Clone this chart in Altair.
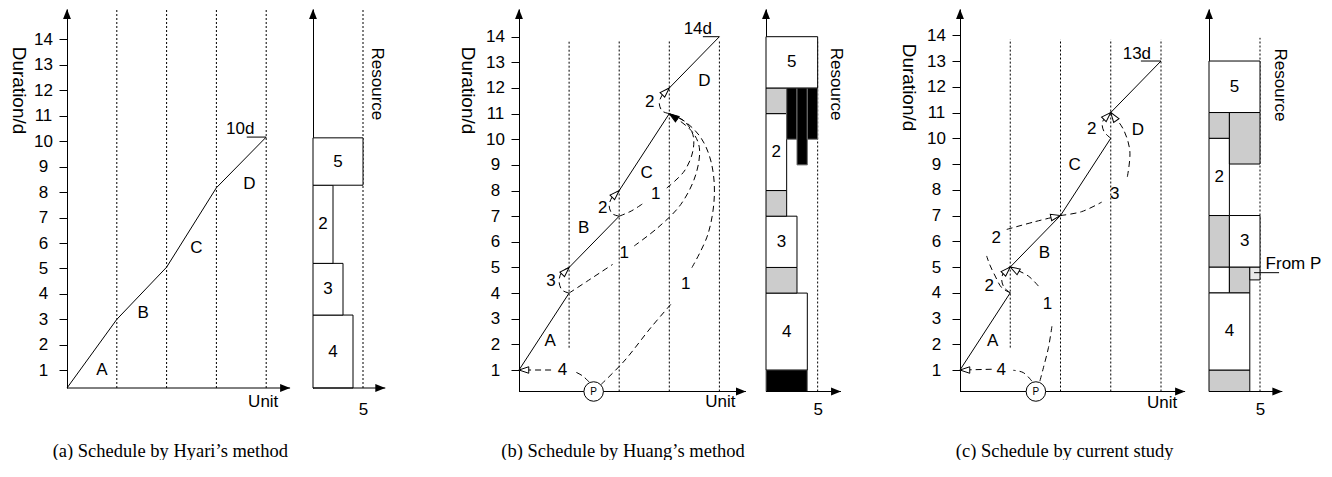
import altair as alt
import pandas as pd

SANS = "Liberation Sans"
SERIF = "Liberation Serif"
FS = 17
DASH = [6, 4]
DOT = [2, 2]
AXIS_HEAD = "M0,0L0.75,1.9L-0.75,1.9Z"
CURVE_HEAD = "M0,0L0.65,1.95L-0.65,1.95Z"

# ======================= values =======================
Y_TICKS = list(range(1, 15))
UNIT_TICKS = [1, 2, 3, 4]
RES_TICK = [5]
ACTIVITIES = ["A", "B", "C", "D"]

KINDS = ["white", "gray", "black", "light"]
FILLS = ["#ffffff", "#cccccc", "#000000", "#e8e8e8"]
STROKES = ["#000000", "#000000", "#707070", "#000000"]

# ---- (a) Hyari's method
A_SEG_X = [[0, 1, 2, 3, 4]]
A_SEG_Y = [[0.305, 3.0, 5.05, 8.17, 10.16]]
A_ACT_X = [0.70, 1.53, 2.60, 3.66]
A_ACT_Y = [1.00, 3.26, 5.80, 8.32]
A_TOTAL = ["10d"]
A_TOTAL_X = [3.48]
A_TOTAL_Y = [10.29]
A_TOTAL_LINE = [3.61, 4.0, 10.16]
A_DOT_LO = [0.305, 0.305, 0.305, 0.305]
A_DOT_HI = [15.19, 15.19, 15.19, 15.19]
A_RES_LABEL = ["4", "3", "2", "5"]
A_RES_X1 = [0, 0, 0, 0]
A_RES_X2 = [4, 3, 2, 5]
A_RES_Y1 = [0.305, 3.17, 5.20, 8.27]
A_RES_Y2 = [3.17, 5.20, 8.27, 10.13]
A_RES_KIND = ["white", "white", "white", "white"]

# ---- (b) Huang's method
B_SEG_X = [[0, 1], [1, 2], [2, 3], [3, 4]]
B_SEG_Y = [[1, 4], [5, 7], [8, 11], [12, 14]]
B_ACT_X = [0.62, 1.29, 2.55, 3.70]
B_ACT_Y = [2.13, 6.55, 8.70, 12.27]
B_TOTAL = ["14d"]
B_TOTAL_X = [3.57]
B_TOTAL_Y = [14.12]
B_TOTAL_LINE = [3.67, 4.0, 14.0]
B_DOT_LO = [1.87, 0.162, 0.162, 0.162]
B_DOT_HI = [13.86, 13.86, 13.86, 13.86]
B_NUM = ["4", "1", "1", "1", "3", "2", "2"]
B_NUM_X = [0.87, 3.33, 2.10, 2.73, 0.64, 1.67, 2.61]
B_NUM_Y = [0.99, 4.34, 5.55, 7.85, 4.47, 7.33, 11.45]
B_CURVES = {
    "p_start_1": ([1.40, 1.27, 1.12], [0.53, 0.77, 0.93]),
    "p_start_2": ([0.64, 0.02], [1.0, 1.0]),
    "p_c_1": ([1.64, 2.10, 2.63, 3.03], [0.44, 1.35, 2.65, 3.56]),
    "p_c_2": ([3.45, 3.77, 3.90, 3.83, 3.63, 3.30, 3.02], [4.99, 6.29, 7.85, 9.15, 10.06, 10.71, 10.98]),
    "b_c_1": ([1.0, 1.35, 1.87], [4.0, 4.45, 5.12]),
    "b_c_2": ([2.30, 2.77, 3.23, 3.53, 3.60, 3.47, 3.17, 3.02], [5.84, 6.55, 7.46, 8.63, 9.67, 10.26, 10.78, 10.98]),
    "c_c_1": ([2.0, 2.24, 2.48], [7.0, 7.2, 7.5]),
    "c_c_2": ([2.95, 3.30, 3.47, 3.47, 3.30, 3.02], [8.10, 8.76, 9.54, 10.19, 10.70, 10.98]),
    "loop_b": ([1.0, 0.86, 0.80, 0.85, 0.97], [4.0, 4.12, 4.45, 4.80, 4.98]),
    "loop_c": ([2.0, 1.86, 1.80, 1.86, 1.97], [7.0, 7.10, 7.40, 7.75, 7.97]),
    "loop_d": ([3.0, 2.86, 2.80, 2.85, 2.97], [11.0, 11.10, 11.40, 11.70, 11.97]),
}
B_OPEN_X = [0, 1, 2, 3]
B_OPEN_Y = [1, 5, 8, 12]
B_OPEN_ANG = [270, 45, 45, 45]
B_FILL_X = [3]
B_FILL_Y = [11]
B_FILL_ANG = [305]
B_P_X = [1.49]
B_RES_LABEL = ["", "4", "", "3", "", "2", "", "", "", "", "5"]
B_RES_X1 = [0, 0, 0, 0, 0, 0, 0, 2, 3, 4, 0]
B_RES_X2 = [4, 4, 3, 3, 2, 2, 2, 3, 4, 5, 5]
B_RES_Y1 = [0.162, 1, 4, 5, 7, 8, 11, 10, 9, 10, 12]
B_RES_Y2 = [1, 4, 5, 7, 8, 11, 12, 12, 12, 12, 14]
B_RES_KIND = ["black", "white", "gray", "white", "gray", "white", "gray",
              "black", "black", "black", "white"]

# ---- (c) current study
C_SEG_X = [[0, 1], [1, 2, 3], [3, 4]]
C_SEG_Y = [[1, 4], [5, 7, 10], [11, 13]]
C_ACT_X = [0.65, 1.68, 2.28, 3.54]
C_ACT_Y = [2.13, 5.56, 8.95, 10.31]
C_TOTAL = ["13d"]
C_TOTAL_X = [3.52]
C_TOTAL_Y = [13.07]
C_TOTAL_LINE = [3.6, 4.0, 13.0]
C_DOT_LO = [1.87, 0.166, 0.166, 0.166]
C_DOT_HI = [13.84, 13.84, 13.84, 13.84]
C_NUM = ["4", "1", "2", "2", "3", "2"]
C_NUM_X = [0.82, 1.74, 0.58, 0.72, 3.08, 2.62]
C_NUM_Y = [0.99, 3.55, 4.26, 6.14, 7.82, 10.35]
C_CURVES = {
    "p_start_1": ([1.43, 1.26, 1.06], [0.57, 0.90, 0.99]),
    "p_start_2": ([0.63, 0.02], [1.03, 1.0]),
    "p_b_1": ([1.59, 1.66, 1.76, 1.83], [0.57, 1.09, 1.87, 2.71]),
    "p_b_2": ([1.56, 1.36, 1.03], [4.26, 4.65, 4.97]),
    "loop_b": ([1.0, 0.88, 0.83, 0.87, 0.97], [4.0, 4.2, 4.5, 4.8, 4.98]),
    "a_c_1": ([1.0, 0.83, 0.70, 0.59, 0.53], [4.0, 4.2, 4.65, 5.1, 5.43]),
    "a_c_2": ([0.93, 1.49, 1.97], [6.46, 6.76, 6.99]),
    "c_d_1": ([2.0, 2.42, 2.82], [7.0, 7.15, 7.52]),
    "c_d_2": ([3.33, 3.38, 3.25, 3.03], [8.5, 9.5, 10.35, 10.95]),
    "loop_d": ([3.0, 2.87, 2.83, 2.88, 2.97], [10.0, 10.25, 10.55, 10.8, 10.97]),
}
C_OPEN_X = [0, 1, 1, 2, 3, 3]
C_OPEN_Y = [1, 5, 5, 7, 11, 11]
C_OPEN_ANG = [270, 300, 45, 78, 325, 45]
C_P_X = [1.51]
C_RES_LABEL = ["", "4", "", "", "", "", "3", "2", "", "", "5"]
C_RES_X1 = [0, 0, 0, 2, 4, 0, 2, 0, 0, 2, 0]
C_RES_X2 = [4, 4, 2, 4, 5, 2, 5, 2, 2, 5, 5]
C_RES_Y1 = [0.166, 1, 4, 4, 4.5, 5, 5, 7, 10, 9, 11]
C_RES_Y2 = [1, 4, 5, 5, 5, 7, 7, 10, 11, 11, 13]
C_RES_KIND = ["gray", "white", "white", "gray", "light", "gray", "white",
              "white", "gray", "gray", "white"]
C_NOTE = ["From P"]
C_NOTE_X = [5.55]
C_NOTE_Y = [4.93]
C_NOTE_LINE = [4.42, 6.87, 4.78]

CAPTIONS = ["(a) Schedule by Hyari’s method",
            "(b) Schedule by Huang’s method",
            "(c) Schedule by current study"]

# ======================= layout of the six panels =======================
GEO = {
    "a_main": dict(w=246.0, h=379.0, unit=49.8, y0=0.305, y1=15.191),
    "a_res": dict(w=205.3, h=379.0, unit=10.0, y0=0.305, y1=15.191),
    "b_main": dict(w=247.0, h=382.5, unit=50.1, y0=0.162, y1=15.08),
    "b_res": dict(w=193.3, h=382.5, unit=10.33, y0=0.162, y1=15.08),
    "c_main": dict(w=248.4, h=382.5, unit=50.25, y0=0.166, y1=15.02),
    "c_res": dict(w=100.0, h=382.5, unit=10.2, y0=0.166, y1=15.02),
}


def scales(g):
    return (alt.Scale(domain=[0, g["w"] / g["unit"]], nice=False, zero=False),
            alt.Scale(domain=[g["y0"], g["y1"]], nice=False, zero=False))


def poly_frame(xs_list, ys_list):
    rows = []
    for s, (xs, ys) in enumerate(zip(xs_list, ys_list)):
        for i, (x, y) in enumerate(zip(xs, ys)):
            rows.append({"s": s, "i": i, "x": x, "y": y})
    return pd.DataFrame(rows)


def text_layer(X, Y, texts, xs, ys, **kw):
    df = pd.DataFrame({"x": xs, "y": ys, "t": texts})
    props = dict(font=SANS, fontSize=FS, color="black", align="center", baseline="middle")
    props.update(kw)
    return alt.Chart(df).mark_text(**props).encode(x=X, y=Y, text="t:N")


def axis_arrows(X, Y, g, tip):
    line = alt.Chart(pd.DataFrame({"x": [0], "x2": [tip], "y": [g["y0"]]})).mark_rule(
        color="black", strokeWidth=1).encode(x=X, x2="x2:Q", y=Y)
    heads = alt.Chart(pd.DataFrame({"x": [0, tip], "y": [g["y1"], g["y0"]], "ang": [0, 90]})).mark_point(
        shape=AXIS_HEAD, size=110, filled=True, color="black", opacity=1, strokeWidth=0
    ).encode(x=X, y=Y, angle=alt.Angle("ang:Q", scale=None))
    return [line, heads]


def main_panel(g, caption, cap_x, cap_y, title_x, title_y, seg_x, seg_y, dot_lo, dot_hi, tip,
               total, total_x, total_y, total_line, act_x, act_y, unit_x, unit_y,
               num=None, num_x=None, num_y=None, curves=None,
               open_x=None, open_y=None, open_ang=None,
               fill_x=None, fill_y=None, fill_ang=None, p_x=None):
    xs, ys = scales(g)
    xax = alt.Axis(domain=False, ticks=False, labels=False, grid=False,
                   title=caption, titleFont=SERIF, titleFontSize=18.5,
                   titleFontWeight="normal", titleColor="black",
                   titleX=cap_x, titleY=cap_y, titleAlign="center", titleBaseline="middle")
    yax = alt.Axis(values=Y_TICKS, grid=False, domainColor="black", domainWidth=1,
                   tickColor="black", tickWidth=1, tickSize=8,
                   labelPadding=16, labelAlign="center", labelBaseline="middle",
                   labelFont=SANS, labelFontSize=FS, labelColor="black",
                   labelOverlap=False, labelFlush=False,
                   title="Duration/d", titleAngle=90, titleX=title_x, titleY=title_y,
                   titleAlign="center", titleBaseline="alphabetic",
                   titleFont=SANS, titleFontSize=19, titleFontWeight="normal", titleColor="black")
    X = alt.X("x:Q", scale=xs, axis=xax)
    Y = alt.Y("y:Q", scale=ys, axis=yax)

    layers = []
    layers.append(alt.Chart(pd.DataFrame({"x": UNIT_TICKS, "y": dot_lo, "y2": dot_hi})).mark_rule(
        color="black", strokeWidth=1, strokeDash=DOT).encode(x=X, y=Y, y2="y2:Q"))
    layers += axis_arrows(X, Y, g, tip)
    layers.append(alt.Chart(poly_frame(seg_x, seg_y)).mark_line(color="black", strokeWidth=1).encode(
        x=X, y=Y, detail="s:N", order="i:Q"))
    layers.append(alt.Chart(pd.DataFrame({"x": [total_line[0]], "x2": [total_line[1]], "y": [total_line[2]]}))
                  .mark_rule(color="black", strokeWidth=1).encode(x=X, x2="x2:Q", y=Y))
    layers.append(text_layer(X, Y, total, total_x, total_y, baseline="alphabetic"))
    if curves:
        names = list(curves)
        layers.append(alt.Chart(poly_frame([curves[n][0] for n in names], [curves[n][1] for n in names]))
                      .mark_line(color="black", strokeWidth=1, strokeDash=DASH, interpolate="catmull-rom")
                      .encode(x=X, y=Y, detail="s:N", order="i:Q"))
    if p_x:
        pdf = pd.DataFrame({"x": p_x, "y": [g["y0"]] * len(p_x), "t": ["P"] * len(p_x)})
        layers.append(alt.Chart(pdf).mark_point(shape="circle", size=380, filled=True, fill="white",
                                                 stroke="black", strokeWidth=1, opacity=1).encode(x=X, y=Y))
        layers.append(alt.Chart(pdf).mark_text(font=SANS, fontSize=10, color="black", baseline="middle",
                                               align="center").encode(x=X, y=Y, text="t:N"))
    if open_x:
        layers.append(alt.Chart(pd.DataFrame({"x": open_x, "y": open_y, "ang": open_ang})).mark_point(
            shape=CURVE_HEAD, size=100, filled=True, fill="white", stroke="black", strokeWidth=1, opacity=1
        ).encode(x=X, y=Y, angle=alt.Angle("ang:Q", scale=None)))
    if fill_x:
        layers.append(alt.Chart(pd.DataFrame({"x": fill_x, "y": fill_y, "ang": fill_ang})).mark_point(
            shape=CURVE_HEAD, size=100, filled=True, fill="black", stroke="black", strokeWidth=1, opacity=1
        ).encode(x=X, y=Y, angle=alt.Angle("ang:Q", scale=None)))
    layers.append(text_layer(X, Y, ACTIVITIES, act_x, act_y))
    if num:
        layers.append(text_layer(X, Y, num, num_x, num_y))
    layers.append(text_layer(X, Y, ["Unit"], [unit_x], [unit_y]))
    return alt.layer(*layers).properties(width=g["w"], height=g["h"])


def res_panel(g, lab_pad, dot_hi, tip, rx, ry, labels, x1, x2, y1, y2, kind,
              note=None, note_x=None, note_y=None, note_line=None):
    xs, ys = scales(g)
    xax = alt.Axis(values=RES_TICK, domain=False, ticks=False, tickSize=0, grid=False,
                   labelPadding=lab_pad, labelFont=SANS, labelFontSize=FS, labelColor="black",
                   labelFlush=False, title=None)
    yax = alt.Axis(labels=False, ticks=False, grid=False, domainColor="black", domainWidth=1, title=None)
    X = alt.X("x:Q", scale=xs, axis=xax)
    Y = alt.Y("y:Q", scale=ys, axis=yax)
    bars = pd.DataFrame({"x": x1, "x2": x2, "y": y1, "y2": y2, "kind": kind, "label": labels})

    layers = []
    layers.append(alt.Chart(pd.DataFrame({"x": RES_TICK, "y": [g["y0"]], "y2": [dot_hi]})).mark_rule(
        color="black", strokeWidth=1, strokeDash=DOT).encode(x=X, y=Y, y2="y2:Q"))
    layers.append(alt.Chart(bars).mark_rect(strokeWidth=1).encode(
        x=X, x2="x2:Q", y=Y, y2="y2:Q",
        fill=alt.Fill("kind:N", scale=alt.Scale(domain=KINDS, range=FILLS), legend=None),
        stroke=alt.Stroke("kind:N", scale=alt.Scale(domain=KINDS, range=STROKES), legend=None)))
    layers += axis_arrows(X, Y, g, tip)
    layers.append(alt.Chart(bars).transform_filter("datum.label != ''").transform_calculate(
        xc="(datum.x + datum.x2) / 2", yc="(datum.y + datum.y2) / 2"
    ).mark_text(font=SANS, fontSize=FS, color="black", align="center", baseline="middle").encode(
        x=alt.X("xc:Q", scale=xs, axis=xax), y=alt.Y("yc:Q", scale=ys, axis=yax), text="label:N"))
    layers.append(text_layer(X, Y, ["Resource"], [rx], [ry], angle=90))
    if note:
        layers.append(alt.Chart(pd.DataFrame({"x": [note_line[0]], "x2": [note_line[1]], "y": [note_line[2]]}))
                      .mark_rule(color="black", strokeWidth=1).encode(x=X, x2="x2:Q", y=Y))
        layers.append(text_layer(X, Y, note, note_x, note_y, align="left", baseline="alphabetic"))
    return alt.layer(*layers).properties(width=g["w"], height=g["h"])


pa = main_panel(GEO["a_main"], CAPTIONS[0], 102.8, 62, -54.7, 81, A_SEG_X, A_SEG_Y, A_DOT_LO, A_DOT_HI, 4.48,
                A_TOTAL, A_TOTAL_X, A_TOTAL_Y, A_TOTAL_LINE, A_ACT_X, A_ACT_Y, 3.94, -0.245)
ra = res_panel(GEO["a_res"], 13.7, 15.19, 7.23, 6.4, 12.25,
               A_RES_LABEL, A_RES_X1, A_RES_X2, A_RES_Y1, A_RES_Y2, A_RES_KIND)
pb = main_panel(GEO["b_main"], CAPTIONS[1], 103.5, 58.5, -58, 81, B_SEG_X, B_SEG_Y, B_DOT_LO, B_DOT_HI, 4.53,
                B_TOTAL, B_TOTAL_X, B_TOTAL_Y, B_TOTAL_LINE, B_ACT_X, B_ACT_Y, 4.02, -0.248,
                B_NUM, B_NUM_X, B_NUM_Y, B_CURVES, B_OPEN_X, B_OPEN_Y, B_OPEN_ANG,
                B_FILL_X, B_FILL_Y, B_FILL_ANG, B_P_X)
rb = res_panel(GEO["b_res"], 10.2, 13.9, 7.26, 6.78, 12.15,
               B_RES_LABEL, B_RES_X1, B_RES_X2, B_RES_Y1, B_RES_Y2, B_RES_KIND)
pc = main_panel(GEO["c_main"], CAPTIONS[2], 104.2, 58.5, -58, 78, C_SEG_X, C_SEG_Y, C_DOT_LO, C_DOT_HI, 4.48,
                C_TOTAL, C_TOTAL_X, C_TOTAL_Y, C_TOTAL_LINE, C_ACT_X, C_ACT_Y, 4.02, -0.28,
                C_NUM, C_NUM_X, C_NUM_Y, C_CURVES, C_OPEN_X, C_OPEN_Y, C_OPEN_ANG,
                None, None, None, C_P_X)
rc = res_panel(GEO["c_res"], 10.2, 13.9, 7.19, 6.96, 12.07,
               C_RES_LABEL, C_RES_X1, C_RES_X2, C_RES_Y1, C_RES_Y2, C_RES_KIND,
               C_NOTE, C_NOTE_X, C_NOTE_Y, C_NOTE_LINE)

chart = alt.hconcat(pa, ra, pb, rb, pc, rc, spacing=0, bounds="flush").properties(
    padding=0, background="white"
).configure_view(stroke=None)

chart.save("out.html", embed_options={"renderer": "svg", "actions": False})
